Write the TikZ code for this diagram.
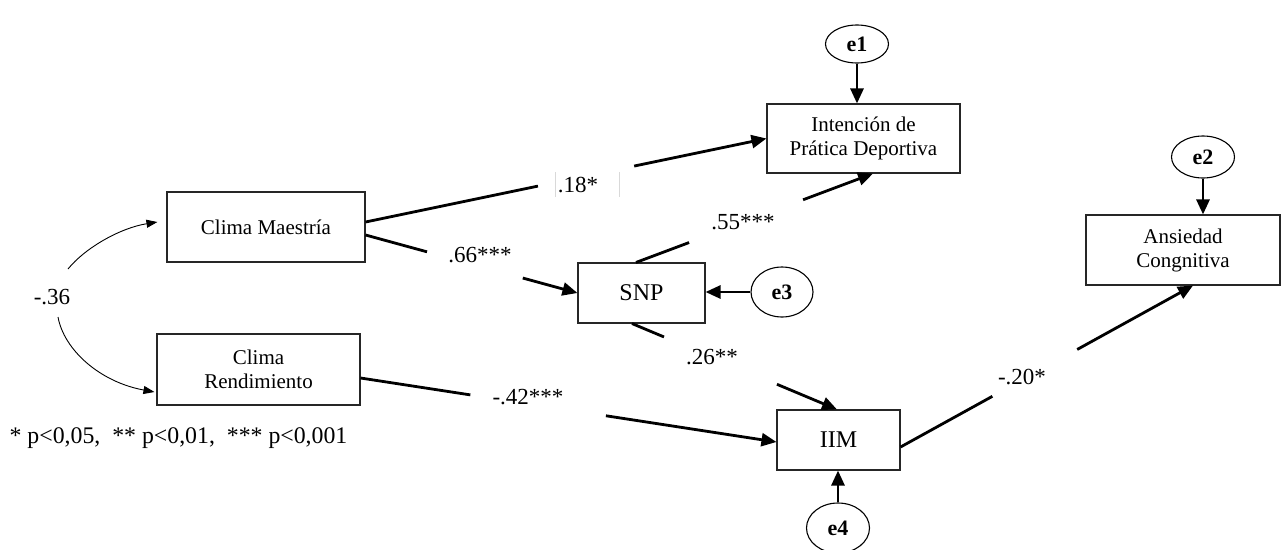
\documentclass[tikz,border=0pt]{standalone}
\usepackage{fontspec}
\setmainfont{Liberation Serif}
\usetikzlibrary{arrows.meta,calc,shapes.geometric}
\tikzset{
  box/.style={draw=black!85, line width=1.1pt, inner sep=0pt, align=center,
    font=\fontsize{21}{24}\selectfont},
  bigtext/.style={font=\fontsize{24}{28}\selectfont},
  err/.style={draw=black, ellipse, line width=1.1pt, inner sep=0pt,
    font=\bfseries\fontsize{22}{26}\selectfont},
  lbl/.style={inner sep=0pt, font=\fontsize{23}{27}\selectfont},
  thk/.style={line width=2.8pt},
  path/.style={line width=2.8pt, -{Triangle[length=15pt,width=13pt]}},
  corr/.style={line width=0.9pt, -{Triangle[length=11pt,width=8pt]}},
  faint/.style={draw=gray!30, line width=1pt}
}
\begin{document}
\begin{tikzpicture}[x=1pt,y=-1pt]
\useasboundingbox (0,0) rectangle (1282,549);

% boxes
\node[box, minimum width=198, minimum height=70] (cm) at (266,227) {Clima Maestría};
\node[box, minimum width=203, minimum height=71] (cr) at (258.5,369.5) {Clima\\Rendimiento};
\node[box, minimum width=193, minimum height=69] (ipd) at (863.5,138.5) {Intención de\\Prática Deportiva};
\node[box, bigtext, minimum width=127, minimum height=60] (snp) at (641.5,293) {SNP};
\node[box, bigtext, minimum width=123, minimum height=60] (iim) at (838.5,440) {IIM};
\node[box, minimum width=194, minimum height=70] (ac) at (1183,250) {Ansiedad\\Congnitiva};

% error terms
\node[err, minimum width=63, minimum height=38] (e1) at (857,44) {e1};
\node[err, minimum width=63, minimum height=42] (e2) at (1203,157) {e2};
\node[err, minimum width=62, minimum height=50] (e3) at (782,292) {e3};
\node[err, minimum width=63, minimum height=50] (e4) at (838,528) {e4};

\draw[path] (e1.south) -- (e1.south |- ipd.north);
\draw[path] (e2.south) -- (e2.south |- ac.north);
\draw[path] (e3.west) -- (e3.west -| snp.east);
\draw[path] (e4.north) -- (e4.north |- iim.south);

% labels
\node[lbl] (l18) at (578,185) {.18*};
\node[lbl] (l66) at (480,255) {.66***};
\node[lbl] (l55) at (743,222) {.55***};
\node[lbl] (l26) at (712,357) {.26**};
\node[lbl] (l42) at (528,397) {-.42***};
\node[lbl] (l20) at (1022,377) {-.20*};
\node[lbl] (l36) at (52,297) {-.36};
\node[lbl, font=\fontsize{23.8}{27}\selectfont] (note) at (178.5,438) {* p<0,05,\ \ ** p<0,01,\ \ *** p<0,001};

\draw[faint] (555,172) -- (555,197);
\draw[faint] (619,172) -- (619,197);

% anchors for paths
\coordinate (a1) at ([yshift=5]cm.east);
\coordinate (a2) at ([yshift=-8]cm.east);
\coordinate (a3) at ([xshift=-5.5]snp.north);
\coordinate (b3) at ([xshift=9.5]ipd.south);
\coordinate (a4) at ([xshift=-9.5]snp.south);
\coordinate (b4) at ([xshift=-1.5]iim.north);
\coordinate (a5) at ([yshift=-8.5]cr.east);
\coordinate (b5) at ([yshift=-2]iim.west);
\coordinate (a6) at ([yshift=-7]iim.east);
\coordinate (b6) at ([xshift=10]ac.south);

% Clima Maestria -> Intencion
\draw[thk] (a1) -- ($(a1)!0.43!(ipd.west)$);
\draw[path] ($(a1)!0.67!(ipd.west)$) -- (ipd.west);
% Clima Maestria -> SNP
\draw[thk] (a2) -- ($(a2)!0.29!(snp.west)$);
\draw[path] ($(a2)!0.742!(snp.west)$) -- (snp.west);
% SNP -> Intencion
\draw[thk] (a3) -- ($(a3)!0.224!(b3)$);
\draw[path] ($(a3)!0.705!(b3)$) -- (b3);
% SNP -> IIM
\draw[thk] (a4) -- ($(a4)!0.156!(b4)$);
\draw[path] ($(a4)!0.707!(b4)$) -- (b4);
% Clima Rendimiento -> IIM
\draw[thk] (a5) -- ($(a5)!0.264!(b5)$);
\draw[path] ($(a5)!0.59!(b5)$) -- (b5);
% IIM -> Ansiedad
\draw[thk] (a6) -- ($(a6)!0.314!(b6)$);
\draw[path] ($(a6)!0.604!(b6)$) -- (b6);

% correlation
\coordinate (s1) at (68,269);
\coordinate (s2) at (58,317);
\coordinate (t1) at ([xshift=-9,yshift=5]cm.west);
\coordinate (t2) at ([xshift=-2,yshift=-22.5]cr.west);
\draw[corr] (s1) .. controls (85,248) and (120,228) .. (t1);
\draw[corr] (s2) .. controls (64,350) and (100,382) .. (t2);
\end{tikzpicture}
\end{document}
